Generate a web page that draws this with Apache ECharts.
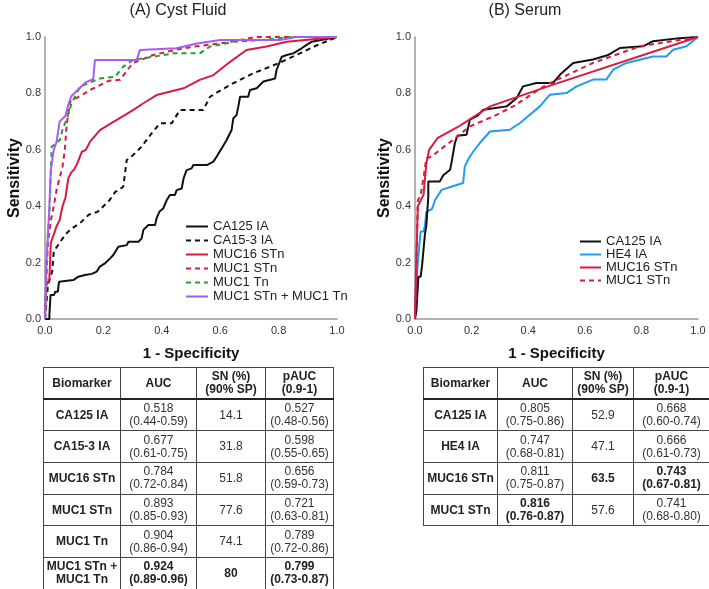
<!DOCTYPE html>
<html>
<head>
<meta charset="utf-8">
<script src="https://cdn.jsdelivr.net/npm/echarts@6/dist/echarts.min.js"></script>
<style>
  body { margin: 0; background: #fff; }
  #wrap { position: relative; width: 709px; height: 589px; overflow: hidden; }
  #chart { position: absolute; left: 0; top: 0; width: 709px; height: 589px; }
  table.tb {
    position: absolute; border-collapse: collapse; table-layout: fixed;
    font-family: "Liberation Sans", Arial, sans-serif; font-size: 12px; color: #333;
  }
  table.tb td { border: 1px solid #444; text-align: center; vertical-align: middle; line-height: 13px; padding: 0; }
  table.tb tr.head td { font-weight: bold; color: #222; border-bottom: 2px solid #222; }
  table.tb td.name { font-weight: bold; color: #222; }
  table.tb td.b { font-weight: bold; color: #222; }
</style>
</head>
<body>
<div id="wrap">
  <div id="chart"></div>
  <table class="tb" id="tabA" style="left:43px; top:367px; width:290px;"></table>
  <table class="tb" id="tabB" style="left:423px; top:367px; width:286px;"></table>
</div>
<script>
// ---- (A) Cyst Fluid ROC curves: [1-specificity, sensitivity]
var ca125CF = [[0,0],[0.015,0],[0.015,0.014],[0.019,0.014],[0.019,0.085],[0.031,0.085],[0.035,0.097],[0.044,0.097],[0.048,0.132],[0.097,0.138],[0.114,0.15],[0.137,0.156],[0.16,0.16],[0.177,0.168],[0.188,0.186],[0.205,0.197],[0.223,0.215],[0.234,0.227],[0.251,0.256],[0.28,0.262],[0.286,0.274],[0.32,0.274],[0.331,0.286],[0.337,0.316],[0.354,0.333],[0.377,0.333],[0.382,0.357],[0.392,0.381],[0.405,0.392],[0.417,0.422],[0.428,0.44],[0.445,0.44],[0.451,0.457],[0.468,0.463],[0.475,0.5],[0.485,0.528],[0.502,0.534],[0.508,0.546],[0.554,0.546],[0.577,0.558],[0.588,0.576],[0.605,0.605],[0.622,0.635],[0.639,0.67],[0.645,0.712],[0.656,0.723],[0.662,0.753],[0.668,0.788],[0.696,0.788],[0.702,0.812],[0.725,0.818],[0.748,0.842],[0.788,0.853],[0.793,0.883],[0.811,0.93],[0.828,0.936],[0.85,0.942],[0.879,0.96],[0.896,0.972],[0.913,0.983],[0.95,0.99],[1,1]];
var ca153CF = [[0,0],[0.01,0.12],[0.025,0.17],[0.03,0.24],[0.05,0.27],[0.07,0.3],[0.09,0.32],[0.12,0.34],[0.15,0.37],[0.18,0.38],[0.2,0.4],[0.22,0.42],[0.24,0.45],[0.268,0.469],[0.28,0.564],[0.3,0.58],[0.33,0.61],[0.365,0.658],[0.394,0.694],[0.434,0.694],[0.462,0.741],[0.542,0.741],[0.565,0.788],[0.6,0.81],[0.645,0.836],[0.713,0.871],[0.8,0.907],[0.873,0.942],[0.93,0.97],[1,1]];
var muc16CF = [[0,0],[0.005,0.12],[0.015,0.14],[0.02,0.27],[0.03,0.3],[0.04,0.33],[0.05,0.35],[0.06,0.4],[0.07,0.43],[0.08,0.5],[0.09,0.52],[0.1,0.53],[0.11,0.55],[0.126,0.593],[0.14,0.6],[0.155,0.63],[0.188,0.67],[0.22,0.69],[0.263,0.717],[0.3,0.74],[0.337,0.765],[0.382,0.794],[0.474,0.818],[0.53,0.848],[0.577,0.865],[0.634,0.912],[0.69,0.954],[0.759,0.966],[0.828,0.983],[0.9,0.99],[1,1]];
var muc1STnCF = [[0,0],[0.005,0.15],[0.01,0.27],[0.02,0.35],[0.03,0.4],[0.04,0.46],[0.05,0.5],[0.06,0.54],[0.068,0.6],[0.074,0.688],[0.086,0.771],[0.1,0.78],[0.12,0.79],[0.154,0.812],[0.19,0.83],[0.22,0.845],[0.257,0.848],[0.3,0.907],[0.37,0.936],[0.45,0.955],[0.51,0.966],[0.62,0.98],[0.72,1],[1,1]];
var muc1TnCF = [[0,0],[0.005,0.2],[0.01,0.3],[0.015,0.37],[0.023,0.611],[0.051,0.635],[0.062,0.68],[0.074,0.706],[0.091,0.765],[0.12,0.824],[0.188,0.853],[0.24,0.859],[0.268,0.895],[0.3,0.918],[0.37,0.93],[0.44,0.942],[0.53,0.942],[0.565,0.966],[0.645,0.983],[0.75,0.99],[0.84,1],[1,1]];
var muc1ComboCF = [[0,0],[0.005,0.2],[0.01,0.3],[0.015,0.4],[0.02,0.53],[0.03,0.6],[0.04,0.63],[0.05,0.7],[0.06,0.71],[0.07,0.72],[0.08,0.76],[0.09,0.79],[0.1,0.8],[0.11,0.81],[0.12,0.82],[0.13,0.83],[0.14,0.84],[0.165,0.85],[0.171,0.918],[0.314,0.918],[0.325,0.954],[0.45,0.96],[0.52,0.977],[0.6,0.989],[0.805,0.989],[0.86,1],[1,1]];

// ---- (B) Serum ROC curves
var ca125S = [[0,0],[0.005,0.03],[0.01,0.03],[0.012,0.15],[0.02,0.15],[0.025,0.19],[0.03,0.19],[0.035,0.3],[0.04,0.33],[0.047,0.434],[0.047,0.488],[0.088,0.488],[0.1,0.51],[0.124,0.529],[0.13,0.56],[0.141,0.624],[0.15,0.65],[0.182,0.653],[0.194,0.707],[0.22,0.72],[0.241,0.742],[0.324,0.754],[0.359,0.783],[0.382,0.825],[0.429,0.837],[0.488,0.837],[0.512,0.866],[0.559,0.908],[0.629,0.92],[0.68,0.935],[0.724,0.961],[0.806,0.967],[0.841,0.985],[0.935,0.996],[1,1]];
var he4S = [[0,0],[0.005,0.12],[0.01,0.2],[0.015,0.26],[0.02,0.31],[0.03,0.31],[0.035,0.33],[0.04,0.38],[0.06,0.39],[0.071,0.422],[0.094,0.458],[0.13,0.47],[0.17,0.482],[0.176,0.541],[0.19,0.57],[0.206,0.594],[0.229,0.624],[0.265,0.665],[0.335,0.671],[0.371,0.695],[0.441,0.754],[0.476,0.795],[0.535,0.801],[0.571,0.825],[0.629,0.849],[0.676,0.849],[0.7,0.884],[0.747,0.908],[0.841,0.931],[0.888,0.931],[0.912,0.955],[0.959,0.967],[1,1]];
var muc16S = [[0,0],[0.005,0.22],[0.01,0.4],[0.02,0.42],[0.03,0.44],[0.04,0.55],[0.05,0.6],[0.079,0.641],[0.15,0.68],[0.265,0.754],[0.488,0.831],[1,1]];
var muc1STnS = [[0,0],[0.005,0.2],[0.01,0.42],[0.02,0.44],[0.03,0.5],[0.04,0.57],[0.059,0.576],[0.088,0.6],[0.135,0.636],[0.194,0.683],[0.276,0.718],[0.347,0.754],[0.465,0.831],[0.629,0.908],[0.794,0.967],[1,1]];

// ---- tables
var tableHead = ["Biomarker", "AUC", "SN (%)<br>(90% SP)", "pAUC<br>(0.9-1)"];
var rowsA = [
  ["CA125 IA", "0.518<br>(0.44-0.59)", "14.1", "0.527<br>(0.48-0.56)"],
  ["CA15-3 IA", "0.677<br>(0.61-0.75)", "31.8", "0.598<br>(0.55-0.65)"],
  ["MUC16 STn", "0.784<br>(0.72-0.84)", "51.8", "0.656<br>(0.59-0.73)"],
  ["MUC1 STn", "0.893<br>(0.85-0.93)", "77.6", "0.721<br>(0.63-0.81)"],
  ["MUC1 Tn", "0.904<br>(0.86-0.94)", "74.1", "0.789<br>(0.72-0.86)"],
  ["MUC1 STn +<br>MUC1 Tn", "0.924<br>(0.89-0.96)", "80", "0.799<br>(0.73-0.87)"]
];
var boldA = [[5,1],[5,2],[5,3]];
var rowsB = [
  ["CA125 IA", "0.805<br>(0.75-0.86)", "52.9", "0.668<br>(0.60-0.74)"],
  ["HE4 IA", "0.747<br>(0.68-0.81)", "47.1", "0.666<br>(0.61-0.73)"],
  ["MUC16 STn", "0.811<br>(0.75-0.87)", "63.5", "0.743<br>(0.67-0.81)"],
  ["MUC1 STn", "0.816<br>(0.76-0.87)", "57.6", "0.741<br>(0.68-0.80)"]
];
var boldB = [[2,2],[2,3],[3,1]];

function buildTable(id, rows, bold, widths, rowH) {
  var html = '<colgroup>' + widths.map(function (w) { return '<col style="width:' + w + 'px">'; }).join('') + '</colgroup>';
  html += '<tr class="head" style="height:' + rowH + 'px">' + tableHead.map(function (h) { return '<td>' + h + '</td>'; }).join('') + '</tr>';
  rows.forEach(function (r, i) {
    html += '<tr style="height:' + rowH + 'px">';
    r.forEach(function (c, j) {
      var isB = bold.some(function (b) { return b[0] === i && b[1] === j; });
      html += '<td class="' + (j === 0 ? 'name' : (isB ? 'b' : '')) + '">' + c + '</td>';
    });
    html += '</tr>';
  });
  document.getElementById(id).innerHTML = html;
}
buildTable("tabA", rowsA, boldA, [77, 76, 69, 68], 31.7);
buildTable("tabB", rowsB, boldB, [74, 75, 61, 76], 31.7);

// ---- charts
var myChart = echarts.init(document.getElementById("chart"));
var font = "Liberation Sans, Arial, sans-serif";

function axisX(gi) {
  return {
    type: "value", gridIndex: gi, min: 0, max: 1, interval: 0.2,
    name: "1 - Specificity", nameLocation: "middle", nameGap: 27,
    nameTextStyle: { fontSize: 15, fontWeight: "bold", color: "#111", fontFamily: font },
    axisLine: { show: true, lineStyle: { color: "#999", width: 1.5 } },
    axisTick: { show: false }, splitLine: { show: false },
    axisLabel: { fontSize: 11, color: "#333", margin: 6, fontFamily: font, formatter: function (v) { return v.toFixed(1); } }
  };
}
function axisY(gi) {
  return {
    type: "value", gridIndex: gi, min: 0, max: 1, interval: 0.2,
    name: "Sensitivity", nameLocation: "middle", nameGap: 22, nameMoveOverlap: false,
    nameTextStyle: { fontSize: 16, fontWeight: "bold", color: "#111", fontFamily: font },
    axisLine: { show: true, lineStyle: { color: "#999", width: 1.5 } },
    axisTick: { show: false }, splitLine: { show: false },
    axisLabel: { fontSize: 11, color: "#333", margin: 4, fontFamily: font, formatter: function (v) { return v.toFixed(1); } }
  };
}
function line(name, data, color, dashed, gi) {
  return {
    name: name, type: "line", data: data, xAxisIndex: gi, yAxisIndex: gi,
    symbol: "none", animation: false,
    lineStyle: { color: color, width: 2, type: dashed ? [5, 4] : "solid" },
    itemStyle: { color: color }
  };
}

var black = "#111111", red = "#d81b3f", green = "#22a325", purple = "#a65cf4", blue = "#1f9cf2";

myChart.setOption({
  animation: false,
  title: [
    { text: "(A) Cyst Fluid", left: 178, top: 3, padding: 0, textAlign: "center", textStyle: { fontSize: 16, fontWeight: "normal", color: "#222", fontFamily: font } },
    { text: "(B) Serum", left: 525, top: 3, padding: 0, textAlign: "center", textStyle: { fontSize: 16, fontWeight: "normal", color: "#222", fontFamily: font } }
  ],
  grid: [
    { left: 45, top: 37, width: 292, height: 282 },
    { left: 415, top: 37, width: 283, height: 282 }
  ],
  xAxis: [axisX(0), axisX(1)],
  yAxis: [axisY(0), axisY(1)],
  legend: [
    {
      orient: "vertical", left: 180, top: 215, itemWidth: 22, itemHeight: 10, itemGap: 1,
      itemStyle: { opacity: 0 },
      textStyle: { fontSize: 13, lineHeight: 13, color: "#222", fontFamily: font },
      data: ["CA125 IA", "CA15-3 IA", "MUC16 STn", "MUC1 STn", "MUC1 Tn", "MUC1 STn + MUC1 Tn"]
    },
    {
      orient: "vertical", left: 574, top: 230, itemWidth: 21, itemHeight: 10, itemGap: 0,
      itemStyle: { opacity: 0 },
      textStyle: { fontSize: 13, lineHeight: 13, color: "#222", fontFamily: font },
      data: ["CA125 IA ", "HE4 IA", "MUC16 STn ", "MUC1 STn "]
    }
  ],
  series: [
    line("CA125 IA", ca125CF, black, false, 0),
    line("CA15-3 IA", ca153CF, black, true, 0),
    line("MUC16 STn", muc16CF, red, false, 0),
    line("MUC1 STn", muc1STnCF, red, true, 0),
    line("MUC1 Tn", muc1TnCF, green, true, 0),
    line("MUC1 STn + MUC1 Tn", muc1ComboCF, purple, false, 0),
    line("HE4 IA", he4S, blue, false, 1),
    line("CA125 IA ", ca125S, black, false, 1),
    line("MUC16 STn ", muc16S, red, false, 1),
    line("MUC1 STn ", muc1STnS, red, true, 1)
  ]
});
</script>
</body>
</html>
